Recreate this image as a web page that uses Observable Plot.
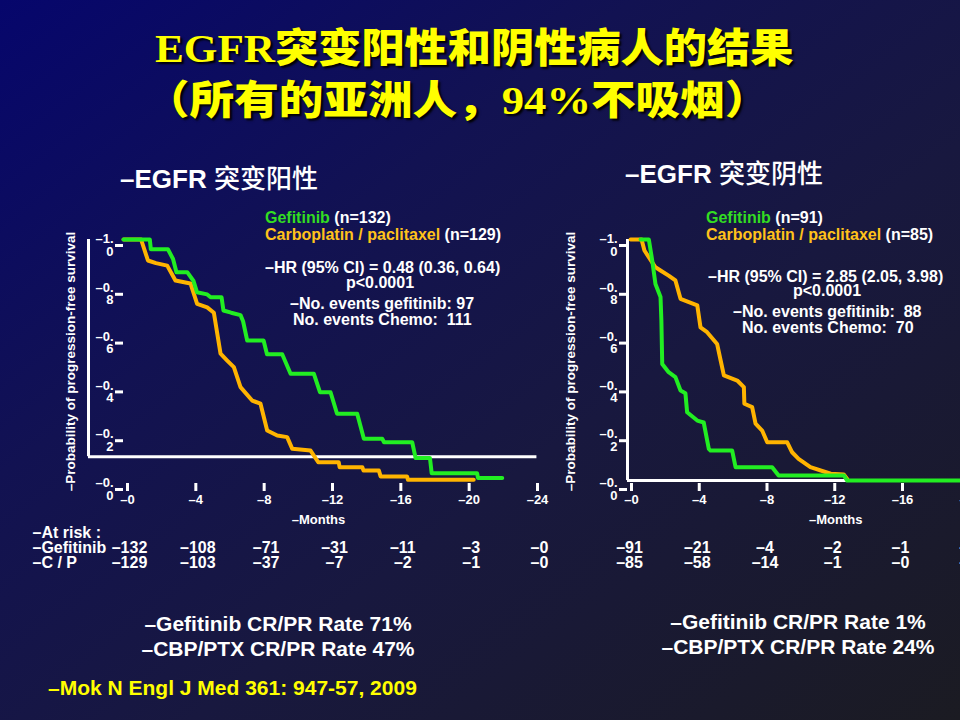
<!DOCTYPE html>
<html>
<head>
<meta charset="utf-8">
<script src="https://cdn.jsdelivr.net/npm/d3@7"></script>
<script src="https://cdn.jsdelivr.net/npm/@observablehq/plot@0.6"></script>
<style>
  body { margin: 0; background: #111; }
  #slide {
    position: relative; width: 960px; height: 720px; overflow: hidden;
    background: linear-gradient(to bottom right, #06066c 0%, #121252 33%, #18183f 60%, #1b1b22 100%);
    font-family: "Liberation Sans", Arial, sans-serif; font-weight: bold; color: #fff;
  }
  .abs { position: absolute; white-space: pre; line-height: 1; }
  .title {
    color: #ffff00; font-size: 40px;
    font-family: "Liberation Serif", "Noto Sans CJK SC", serif;
    text-shadow: 2px 2px 2px #000;
    transform: scaleX(1.08); transform-origin: left top;
  }
  .title .cjk { font-family: "Noto Sans CJK SC", sans-serif; font-weight: 900; }
  .sub { font-size: 26px; }
  .sub .cjk { font-family: "Noto Sans CJK SC", sans-serif; font-weight: 500; }
  .note { font-size: 16px; }
  .g { color: #33dd22; }
  .o { color: #ffc21a; }
  .rate { font-size: 21px; text-align: center; width: 400px; }
  .cite { color: #ffff00; font-size: 21px; }
  .chart { position: absolute; }
  .chart svg { max-width: none; }
</style>
</head>
<body>
<div id="slide">
  <div class="abs title" style="left:155px; top:25px;">EGFR<span class="cjk">突变阳性和阴性病人的结果</span></div>
  <div class="abs title" style="left:145px; top:77px; transform: scaleX(1.115);"><span class="cjk">（所有的亚洲人，</span>94%<span class="cjk">不吸烟）</span></div>

  <div class="abs sub" style="left:120px; top:164px;">–EGFR <span class="cjk">突变阳性</span></div>
  <div class="abs sub" style="left:625px; top:159px;">–EGFR <span class="cjk">突变阴性</span></div>

  <div id="left-chart" class="chart" style="left:0px; top:200px;"></div>
  <div id="right-chart" class="chart" style="left:560px; top:200px;"></div>

  <div class="abs note" style="left:265px; top:210px;"><span class="g">Gefitinib</span> (n=132)</div>
  <div class="abs note" style="left:265px; top:227px;"><span class="o">Carboplatin / paclitaxel</span> (n=129)</div>
  <div class="abs note" style="left:265px; top:260px;">–HR (95% CI) = 0.48 (0.36, 0.64)</div>
  <div class="abs note" style="left:346px; top:275px;">p&lt;0.0001</div>
  <div class="abs note" style="left:290px; top:296px;">–No. events gefitinib: 97</div>
  <div class="abs note" style="left:293px; top:312px;">No. events Chemo:  111</div>

  <div class="abs note" style="left:706px; top:210px;"><span class="g">Gefitinib</span> (n=91)</div>
  <div class="abs note" style="left:706px; top:227px;"><span class="o">Carboplatin / paclitaxel</span> (n=85)</div>
  <div class="abs note" style="left:708px; top:269px;">–HR (95% CI) = 2.85 (2.05, 3.98)</div>
  <div class="abs note" style="left:793px; top:283px;">p&lt;0.0001</div>
  <div class="abs note" style="left:733px; top:304px;">–No. events gefitinib:  88</div>
  <div class="abs note" style="left:742px; top:320px;">No. events Chemo:  70</div>

  <div class="abs rate" style="left:78px; top:613px;">–Gefitinib CR/PR Rate 71%</div>
  <div class="abs rate" style="left:78px; top:638px;">–CBP/PTX CR/PR Rate 47%</div>
  <div class="abs rate" style="left:598px; top:611px;">–Gefitinib CR/PR Rate 1%</div>
  <div class="abs rate" style="left:598px; top:636px;">–CBP/PTX CR/PR Rate 24%</div>
  <div class="abs cite" style="left:48px; top:677px;">–Mok N Engl J Med 361: 947-57, 2009</div>
</div>

<script>
// months on the x axis, and the at-risk table columns
const months = [0, 4, 8, 12, 16, 20, 24];
const probTicks = [0, 0.2, 0.4, 0.6, 0.8, 1.0];

// EGFR mutation positive
const posGefT = [0, 1.54, 1.6, 2.6, 2.9, 3.1, 3.73, 4.1, 4.3, 4.9, 5.1, 5.74, 5.85, 6.3, 6.85, 7.0, 7.24, 8.2, 8.4, 9.29, 9.78, 11.14, 11.5, 12.12, 12.5, 13.68, 14.07, 15.15, 15.25, 16.9, 17.1, 17.94, 18.04, 20.7, 20.75, 22.17];
const posGefS = [1.0, 1.0, 0.96, 0.96, 0.92, 0.866, 0.866, 0.83, 0.784, 0.775, 0.763, 0.763, 0.709, 0.70, 0.69, 0.665, 0.586, 0.586, 0.53, 0.53, 0.45, 0.45, 0.374, 0.374, 0.286, 0.286, 0.183, 0.183, 0.169, 0.169, 0.104, 0.104, 0.042, 0.042, 0.023, 0.023];
const posCpT = [0, 1.03, 1.43, 1.9, 2.56, 3.04, 3.92, 4.31, 4.9, 5.29, 5.68, 6.07, 6.46, 6.85, 7.53, 8.02, 8.41, 9.0, 9.58, 9.88, 10.95, 11.4, 12.6, 12.65, 13.98, 14.05, 14.95, 15.05, 16.6, 16.65, 20.5];
const posCpS = [1.0, 1.0, 0.914, 0.903, 0.893, 0.832, 0.82, 0.736, 0.722, 0.70, 0.532, 0.504, 0.477, 0.395, 0.34, 0.327, 0.217, 0.197, 0.19, 0.142, 0.135, 0.087, 0.087, 0.067, 0.067, 0.053, 0.053, 0.029, 0.029, 0.015, 0.015];
const posRiskGef = [132, 108, 71, 31, 11, 3, 0];
const posRiskCp = [129, 103, 37, 7, 2, 1, 0];
const riskRowLabels = ["–At risk :", "–Gefitinib", "–C / P"];

// EGFR mutation negative
const negGefT = [0.77, 1.26, 1.46, 1.65, 1.95, 2.0, 2.05, 2.43, 2.83, 3.13, 3.42, 3.52, 4.12, 4.5, 4.8, 4.9, 6.18, 6.38, 8.54, 8.92, 12.77, 12.97, 22];
const negGefS = [1.0, 1.0, 0.914, 0.818, 0.764, 0.668, 0.49, 0.456, 0.436, 0.381, 0.37, 0.292, 0.258, 0.25, 0.142, 0.135, 0.135, 0.067, 0.067, 0.033, 0.033, 0.012, 0.012];
const negCpT = [0.18, 0.83, 1.0, 1.65, 1.95, 2.43, 2.83, 3.13, 4.12, 4.31, 4.7, 5.29, 5.5, 5.69, 6.48, 6.87, 6.9, 7.36, 7.56, 7.95, 8.25, 9.43, 9.72, 10.1, 10.8, 12.0, 12.77, 12.97];
const negCpS = [1.0, 1.0, 0.955, 0.886, 0.873, 0.852, 0.832, 0.757, 0.73, 0.64, 0.62, 0.572, 0.504, 0.443, 0.422, 0.395, 0.327, 0.313, 0.245, 0.217, 0.169, 0.169, 0.128, 0.101, 0.067, 0.04, 0.037, 0.019];
const negRiskGef = [91, 21, 4, 2, 1, 0, 0];
const negRiskCp = [85, 58, 14, 1, 0, 0, 0];

const green = "#22ee22";
const orange = "#ffb400";

const rows = (t, s) => t.map((d, i) => ({t: d, s: s[i]}));

function km({width, marginLeft, marginRight, gef, cp, riskGef, riskCp, axisX, axisY, rowLabels, monthsDx, yLabelDx, riskDx}) {
  const txt = {fill: "white", fontWeight: "bold"};
  return Plot.plot({
    width, height: 390,
    marginLeft, marginRight, marginTop: 39, marginBottom: 107,
    style: {background: "transparent", color: "white", fontFamily: "Liberation Sans, Arial, sans-serif", fontWeight: "bold", overflow: "visible"},
    x: {domain: [0, 24]},
    y: {domain: [0, 1]},
    marks: [
      // the slide's own axis lines
      Plot.ruleX([axisY.x], {y1: axisY.y1, y2: 1, stroke: "white", strokeWidth: 3}),
      Plot.ruleY([axisX.y], {x1: axisX.x1, x2: axisX.x2, stroke: "white", strokeWidth: 3}),
      Plot.axisY({ticks: probTicks, tickSize: 8, tickPadding: 2, strokeWidth: 3,
        tickFormat: d => "–" + d.toFixed(1).replace(".", ".\n"),
        lineAnchor: "middle", lineHeight: 0.95, dy: 6, fontSize: 13, label: null}),
      Plot.axisX({ticks: months, tickSize: 8, tickPadding: 3, strokeWidth: 3,
        tickFormat: d => "–" + d, dx: 4, fontSize: 13, label: null}),
      Plot.text(["–Probability of progression-free survival"], {frameAnchor: "left", textAnchor: "middle", rotate: -90, dx: yLabelDx, fontSize: 13.5, ...txt}),
      Plot.text(["–Months"], {frameAnchor: "bottom", dx: monthsDx, dy: 40, fontSize: 13, ...txt}),
      Plot.line(rows(cp.t, cp.s), {x: "t", y: "s", stroke: orange, strokeWidth: 4}),
      Plot.line(rows(gef.t, gef.s), {x: "t", y: "s", stroke: green, strokeWidth: 4}),
      Plot.text(months, {x: d => d, text: (d, i) => "–" + riskGef[i], frameAnchor: "bottom", dx: riskDx, dy: 69, fontSize: 16, ...txt}),
      Plot.text(months, {x: d => d, text: (d, i) => "–" + riskCp[i], frameAnchor: "bottom", dx: riskDx, dy: 84, fontSize: 16, ...txt}),
      ...(rowLabels || []).map((label, i) =>
        Plot.text([label], {frameAnchor: "bottom-left", textAnchor: "start", dx: -91, dy: 54 + 15 * i, fontSize: 16, ...txt}))
    ]
  });
}

const left = km({
  width: 560, marginLeft: 123, marginRight: 27,
  gef: {t: posGefT, s: posGefS}, cp: {t: posCpT, s: posCpS},
  riskGef: posRiskGef, riskCp: posRiskCp,
  axisX: {y: 0.11, x1: -2.05, x2: 24.2}, axisY: {x: -2.05, y1: 0.11},
  rowLabels: riskRowLabels, monthsDx: -10, yLabelDx: -53, riskDx: 6
});
document.getElementById("left-chart").append(left);

const right = km({
  width: 500, marginLeft: 67, marginRight: 26.5,
  gef: {t: negGefT, s: negGefS}, cp: {t: negCpT, s: negCpS},
  riskGef: negRiskGef, riskCp: negRiskCp,
  axisX: {y: 0.012, x1: 0, x2: 24.5}, axisY: {x: 0, y1: 0.012},
  rowLabels: null, monthsDx: 5, yLabelDx: -57, riskDx: 2
});
document.getElementById("right-chart").append(right);
</script>
</body>
</html>
